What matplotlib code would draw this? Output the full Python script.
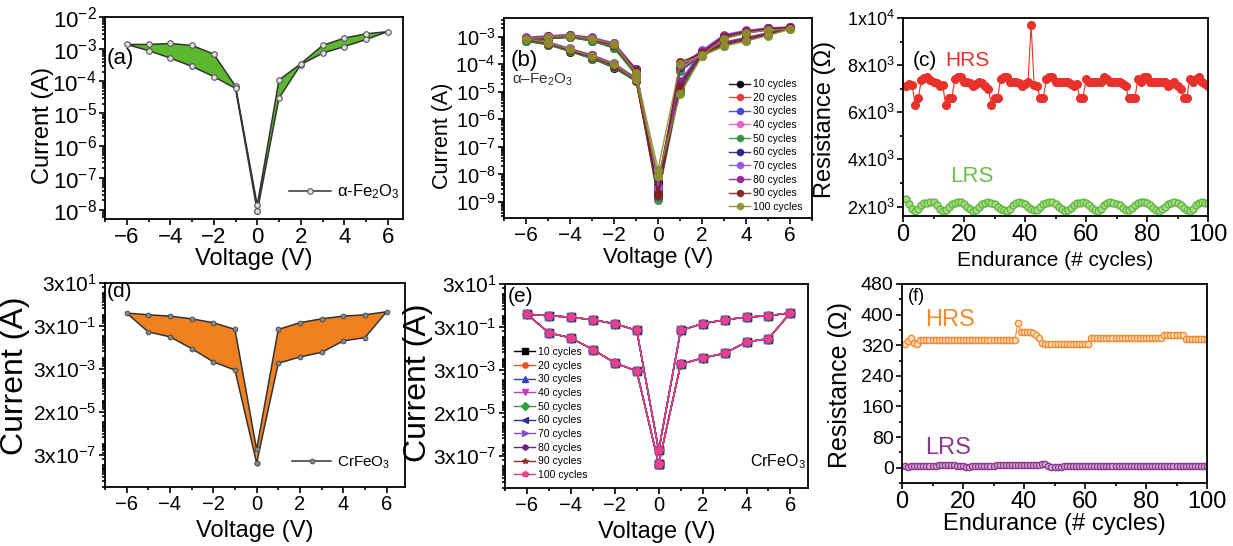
import matplotlib.pyplot as plt
import numpy as np
from matplotlib.ticker import FixedLocator, MultipleLocator, LogLocator, NullFormatter

plt.rcParams['font.family'] = ['Liberation Sans', 'DejaVu Sans']
plt.rcParams['mathtext.fontset'] = 'custom'
plt.rcParams['mathtext.rm'] = 'Liberation Sans'
plt.rcParams['mathtext.it'] = 'Liberation Sans:italic'
plt.rcParams['mathtext.default'] = 'regular'

# voltage sweep order of every I-V loop: 0 -> +6 -> 0 -> -6 -> 0
volts = [0, 1, 2, 3, 4, 5, 6, 5, 4, 3, 2, 1, 0, -1, -2, -3, -4, -5, -6, -5, -4, -3, -2, -1, 0]

# (a) alpha-Fe2O3 single loop
fe_current = [9e-9, 3e-5, 3.3e-4, 7.5e-4, 1.2e-3, 2.0e-3, 3.5e-3, 3.0e-3, 2.2e-3, 1.3e-3, 3.5e-4, 1.1e-4, 1.4e-8,
              7e-5, 7e-4, 1.3e-3, 1.5e-3, 1.4e-3, 1.4e-3, 9e-4, 5.3e-4, 2.9e-4, 1.4e-4, 6e-5, 9e-9]

# (b) alpha-Fe2O3 loops after n cycles
fe_c10 = [5.5e-9, 1.0e-5, 2.4e-4, 5.0e-4, 7.5e-4, 1.2e-3, 2.0e-3, 1.8e-3, 1.4e-3, 9.0e-4, 2.2e-4, 6.0e-5, 5.0e-9,
          4.5e-5, 4.0e-4, 7.0e-4, 9.5e-4, 8.5e-4, 6.8e-4, 5.2e-4, 2.9e-4, 1.6e-4, 7.5e-5, 2.4e-5, 5.5e-9]
fe_c20 = [2.5e-9, 1.4e-5, 2.2e-4, 5.5e-4, 8.0e-4, 1.3e-3, 2.1e-3, 1.9e-3, 1.5e-3, 1.0e-3, 2.4e-4, 7.0e-5, 2.0e-9,
          5.0e-5, 4.5e-4, 7.5e-4, 1.0e-3, 9.0e-4, 7.5e-4, 5.5e-4, 3.1e-4, 1.7e-4, 8.5e-5, 2.6e-5, 2.5e-9]
fe_c30 = [2.0e-9, 2.0e-5, 2.8e-4, 6.0e-4, 8.5e-4, 1.3e-3, 2.2e-3, 2.0e-3, 1.6e-3, 1.1e-3, 2.8e-4, 7.5e-5, 1.8e-9,
          5.5e-5, 5.0e-4, 8.0e-4, 1.05e-3, 9.5e-4, 8.0e-4, 5.8e-4, 3.3e-4, 1.9e-4, 9.5e-5, 2.8e-5, 2.0e-9]
fe_c40 = [3.0e-9, 1.6e-5, 2.5e-4, 5.8e-4, 8.2e-4, 1.25e-3, 2.1e-3, 1.9e-3, 1.5e-3, 1.0e-3, 2.6e-4, 6.5e-5, 2.5e-9,
          6.0e-5, 5.5e-4, 8.5e-4, 1.1e-3, 1.0e-3, 8.5e-4, 6.0e-4, 3.5e-4, 2.0e-4, 1.0e-4, 3.0e-5, 3.0e-9]
fe_c50 = [1.5e-9, 1.2e-5, 2.0e-4, 4.8e-4, 7.0e-4, 1.15e-3, 1.9e-3, 1.75e-3, 1.35e-3, 8.5e-4, 2.0e-4, 5.5e-5, 1.2e-9,
          4.0e-5, 3.8e-4, 7.0e-4, 9.5e-4, 8.8e-4, 7.2e-4, 5.0e-4, 3.0e-4, 1.6e-4, 8.0e-5, 2.5e-5, 1.5e-9]
fe_c60 = [2.2e-9, 1.8e-5, 2.6e-4, 6.2e-4, 9.0e-4, 1.35e-3, 2.2e-3, 2.0e-3, 1.6e-3, 1.1e-3, 3.0e-4, 8.0e-5, 2.0e-9,
          6.5e-5, 5.8e-4, 9.0e-4, 1.15e-3, 1.05e-3, 9.0e-4, 6.2e-4, 3.6e-4, 2.1e-4, 1.05e-4, 3.1e-5, 2.2e-9]
fe_c70 = [3.5e-9, 2.5e-5, 3.0e-4, 6.5e-4, 9.5e-4, 1.4e-3, 2.3e-3, 2.1e-3, 1.7e-3, 1.2e-3, 3.2e-4, 9.0e-5, 3.0e-9,
          7.0e-5, 6.0e-4, 9.5e-4, 1.2e-3, 1.1e-3, 9.5e-4, 6.5e-4, 3.8e-4, 2.2e-4, 1.1e-4, 3.2e-5, 3.5e-9]
fe_c80 = [1.8e-9, 2.2e-5, 2.7e-4, 6.0e-4, 9.0e-4, 1.35e-3, 2.2e-3, 2.0e-3, 1.6e-3, 1.1e-3, 2.9e-4, 8.5e-5, 1.6e-9,
          6.5e-5, 5.5e-4, 9.0e-4, 1.15e-3, 1.05e-3, 9.0e-4, 6.2e-4, 3.6e-4, 2.1e-4, 1.0e-4, 3.0e-5, 1.8e-9]
fe_c90 = [2.0e-9, 1.5e-5, 2.3e-4, 5.5e-4, 8.0e-4, 1.25e-3, 2.1e-3, 1.9e-3, 1.5e-3, 1.0e-3, 2.5e-4, 1.2e-4, 1.8e-9,
          5.5e-5, 5.0e-4, 8.0e-4, 1.05e-3, 9.5e-4, 8.0e-4, 5.6e-4, 3.2e-4, 1.8e-4, 9.0e-5, 2.7e-5, 2.0e-9]
fe_c100 = [8.5e-9, 8.0e-6, 2.0e-4, 4.5e-4, 7.0e-4, 1.1e-3, 1.9e-3, 1.75e-3, 1.35e-3, 8.5e-4, 2.1e-4, 1.0e-4, 1.5e-8,
           5.0e-5, 5.5e-4, 8.5e-4, 1.1e-3, 1.0e-3, 8.5e-4, 6.0e-4, 3.5e-4, 2.0e-4, 1.0e-4, 2.8e-5, 8.5e-9]
fe_cycle_runs = [fe_c10, fe_c20, fe_c30, fe_c40, fe_c50, fe_c60, fe_c70, fe_c80, fe_c90, fe_c100]
cycle_labels = ['10 cycles', '20 cycles', '30 cycles', '40 cycles', '50 cycles',
                '60 cycles', '70 cycles', '80 cycles', '90 cycles', '100 cycles']

# (d), (e) CrFeO3 loop (all cycles overlap)
cr_current = [1.3e-7, 5.6e-3, 1.1e-2, 1.8e-2, 6.1e-2, 8.7e-2, 1.38, 1.0, 0.87, 0.65, 0.43, 0.21, 5.6e-7,
              0.21, 0.43, 0.65, 0.87, 1.0, 1.2, 0.16, 0.095, 0.027, 6.5e-3, 2.7e-3, 1.3e-7]

# (c) alpha-Fe2O3 endurance
cycles = np.arange(1, 101)
fe_hrs = [7100, 7200, 7150, 6300, 6600, 7350, 7450, 7500, 7350, 7300,
          7250, 7100, 7150, 6300, 6600, 6600, 7400, 7500, 7500, 7300,
          7300, 7250, 7100, 7200, 7300, 7250, 7100, 7000, 6300, 6600,
          6600, 7400, 7500, 7500, 7300, 7300, 7300, 7250, 7100, 7200,
          7300, 9700, 7150, 7100, 6600, 6600, 7400, 7500, 7500, 7300,
          7300, 7300, 7300, 7300, 7200, 7100, 7200, 6600, 6600, 7400,
          7300, 7300, 7300, 7300, 7300, 7500, 7400, 7300, 7300, 7300,
          7300, 7200, 7100, 6600, 6600, 6600, 7400, 7300, 7500, 7500,
          7300, 7300, 7300, 7300, 7300, 7300, 7100, 7200, 7300, 7100,
          7000, 6600, 6600, 7400, 7300, 7400, 7500, 7300, 7200, 7100]
fe_lrs = [2300, 2100, 1900, 1800, 1900, 2050, 2150, 2150, 2200, 2200,
          2050, 1900, 1800, 1850, 2000, 2100, 2150, 2200, 2200, 2100,
          2000, 1900, 1800, 1850, 2000, 2100, 2150, 2200, 2150, 2100,
          2000, 1900, 1850, 1800, 1900, 2050, 2150, 2200, 2150, 2100,
          2000, 1900, 1850, 1850, 2000, 2100, 2150, 2200, 2200, 2100,
          2000, 1900, 1800, 1850, 1950, 2050, 2150, 2150, 2200, 2150,
          2050, 1950, 1850, 1800, 1900, 2050, 2150, 2200, 2150, 2100,
          2050, 1950, 1850, 1850, 1950, 2050, 2150, 2200, 2200, 2150,
          2050, 1950, 1850, 1800, 1900, 2000, 2100, 2150, 2200, 2150,
          2050, 1950, 1850, 1800, 1900, 2050, 2150, 2200, 2150, 2150]

# (f) CrFeO3 endurance
cr_hrs = [322, 330, 340, 326, 322, 333, 333, 333, 333, 333,
          333, 333, 333, 333, 333, 333, 333, 333, 333, 333,
          333, 333, 333, 333, 333, 333, 333, 333, 333, 333,
          333, 333, 333, 333, 333, 333, 333, 378, 355, 355,
          355, 355, 353, 348, 338, 326, 323, 323, 323, 323,
          323, 323, 323, 323, 323, 323, 323, 323, 323, 323,
          323, 338, 338, 338, 338, 338, 338, 338, 338, 338,
          338, 338, 338, 338, 338, 338, 338, 338, 338, 338,
          338, 338, 338, 338, 338, 346, 346, 346, 346, 346,
          346, 346, 337, 337, 337, 337, 337, 337, 337, 337]
cr_lrs = [4, 3, 4, 5, 5, 5, 5, 5, 5, 5,
          5, 6, 6, 7, 8, 7, 6, 5, 5, 4,
          3, 3, 4, 4, 5, 5, 5, 5, 5, 5,
          6, 6, 7, 7, 8, 8, 7, 7, 6, 6,
          6, 6, 6, 6, 7, 9, 10, 5, 3, 3,
          3, 3, 4, 4, 4, 4, 4, 4, 4, 4,
          4, 4, 5, 5, 5, 5, 5, 5, 5, 5,
          5, 5, 5, 5, 5, 5, 5, 5, 5, 5,
          5, 5, 5, 5, 5, 5, 5, 5, 5, 5,
          5, 5, 5, 5, 5, 5, 5, 5, 5, 5]

fe_colors = ['#000000', '#f03030', '#4040d0', '#e060c0', '#309040', '#202080',
             '#9050e0', '#902090', '#802020', '#909030']
cr_colors = ['#000000', '#f05020', '#3040c0', '#c040c0', '#30a040', '#303090',
             '#8050d0', '#702080', '#903020', '#e8408c']
cr_markers = ['s', 'o', '^', 'v', 'D', '<', '>', 'h', '*', 'p']

W, H = 1233, 546
fig = plt.figure(figsize=(W / 100, H / 100), dpi=100)


def box(left, top, right, bottom):
    return [left / W, 1 - bottom / H, (right - left) / W, (bottom - top) / H]


def style(ax, xsize, ysize):
    for s in ax.spines.values():
        s.set_linewidth(1.3)
    ax.tick_params(which='both', direction='out', top=False, right=False, width=1.2, pad=1.5)
    ax.tick_params(axis='x', labelsize=xsize)
    ax.tick_params(axis='y', labelsize=ysize)
    ax.tick_params(which='major', length=4.5)
    ax.tick_params(which='minor', length=2.5)


def labels(ax, xlab, ylab, xs, ys, xy, yx, yy):
    ax.set_xlabel(xlab, fontsize=xs)
    ax.set_ylabel(ylab, fontsize=ys)
    ax.xaxis.set_label_coords(0.5, xy)
    ax.yaxis.set_label_coords(yx, yy)
    ax.xaxis.label.set_va('center')
    ax.yaxis.label.set_va('center')


def log_minor(ax):
    ax.yaxis.set_minor_locator(LogLocator(base=10, subs=np.arange(1, 10), numticks=100))
    ax.yaxis.set_minor_formatter(NullFormatter())


# ---- (a)
ax = fig.add_axes(box(105, 17, 403, 219))
ax.fill(volts[:13], fe_current[:13], color='#5cb82e', lw=0)
ax.fill(volts[12:], fe_current[12:], color='#5cb82e', lw=0)
ax.plot(volts, fe_current, '-o', color='#333333', lw=1.1, ms=4, mfc='#e0e0e0', mec='#555555', mew=0.8,
        label='α-Fe$_2$O$_3$')
ax.set_yscale('log')
ax.set_ylim(5.2e-9, 1e-2)
ax.set_xlim(-7, 6.7)
ax.set_xticks([-6, -4, -2, 0, 2, 4, 6])
ax.xaxis.set_minor_locator(MultipleLocator(1))
ax.yaxis.set_major_locator(FixedLocator([1e-8, 1e-7, 1e-6, 1e-5, 1e-4, 1e-3, 1e-2]))
log_minor(ax)
style(ax, 16, 16)
labels(ax, 'Voltage (V)', 'Current (A)', 17, 17, -0.2, -0.208, 0.465)
ax.text(0.007, 0.797, '(a)', transform=ax.transAxes, fontsize=16, ha='left', va='center')
ax.legend(loc='center right', bbox_to_anchor=(0.99, 0.134), frameon=False, fontsize=12,
          handlelength=2.5, handletextpad=0.4, borderaxespad=0, borderpad=0)

# ---- (b)
ax = fig.add_axes(box(504, 18, 812, 218))
for run, lab, col in zip(fe_cycle_runs, cycle_labels, fe_colors):
    ax.plot(volts, run, '-o', color=col, lw=1, ms=5.5, alpha=0.9, label=lab)
ax.set_yscale('log')
ax.set_ylim(2.6e-10, 4.8e-3)
ax.set_xlim(-7, 7)
ax.set_xticks([-6, -4, -2, 0, 2, 4, 6])
ax.xaxis.set_minor_locator(MultipleLocator(1))
ax.yaxis.set_major_locator(FixedLocator([1e-9, 1e-8, 1e-7, 1e-6, 1e-5, 1e-4, 1e-3]))
log_minor(ax)
style(ax, 15, 14.5)
labels(ax, 'Voltage (V)', 'Current (A)', 16, 15.5, -0.2, -0.2, 0.41)
ax.text(0.02, 0.79, '(b)', transform=ax.transAxes, fontsize=16, ha='left', va='center')
ax.text(0.025, 0.69, 'α–Fe$_2$O$_3$', transform=ax.transAxes, fontsize=11, ha='left', va='center',
        color='#333333')
ax.legend(loc='lower right', bbox_to_anchor=(0.97, 0.03), frameon=False, fontsize=7.5, markerscale=0.8,
          handlelength=2, handletextpad=0.3, labelspacing=0.35, borderaxespad=0, borderpad=0)

# ---- (c)
ax = fig.add_axes(box(903, 18, 1208, 216))
ax.plot(cycles, fe_hrs, '-o', color='#e8312a', lw=0.8, ms=5.5, mec='#e8312a')
ax.plot(cycles, fe_lrs, '-o', color='#6cc04a', lw=0.8, ms=5, mfc='#a8dc88', mec='#62b840', mew=1)
ax.set_xlim(0, 100)
ax.set_ylim(1600, 10000)
ax.set_yticks([2000, 4000, 6000, 8000, 10000])
ax.set_yticklabels(['2x10$^3$', '4x10$^3$', '6x10$^3$', '8x10$^3$', '1x10$^4$'])
ax.yaxis.set_minor_locator(MultipleLocator(1000))
ax.set_xticks([0, 20, 40, 60, 80, 100])
ax.xaxis.set_minor_locator(MultipleLocator(10))
style(ax, 17, 13)
labels(ax, 'Endurance (# cycles)', 'Resistance (Ω)', 15, 17, -0.225, -0.256, 0.49)
ax.text(3.3, 8200, '(c)', fontsize=15, ha='left', va='center')
ax.text(13.8, 8200, 'HRS', fontsize=15, ha='left', va='center', color='#e8312a')
ax.text(15.4, 3280, 'LRS', fontsize=16, ha='left', va='center', color='#6cc04a')

# ---- (d)
cr_ticks = [3e-7, 3e-5, 3e-3, 3e-1, 3e1]
cr_ticklabels = ['3x10$^{-7}$', '2x10$^{-5}$', '3x10$^{-3}$', '3x10$^{-1}$', '3x10$^{1}$']
ax = fig.add_axes(box(105, 283, 405, 487))
ax.fill(volts[:13], cr_current[:13], color='#f08020', lw=0)
ax.fill(volts[12:], cr_current[12:], color='#f08020', lw=0)
ax.plot(volts, cr_current, '-o', color='#333333', lw=1.1, ms=3.5, mfc='#888888', mec='#444444', mew=0.6,
        label='CrFeO$_3$')
ax.set_yscale('log')
ax.set_ylim(1e-8, 30)
ax.set_xlim(-7, 6.85)
ax.set_xticks([-6, -4, -2, 0, 2, 4, 6])
ax.xaxis.set_minor_locator(MultipleLocator(1))
ax.yaxis.set_major_locator(FixedLocator(cr_ticks))
ax.set_yticklabels(cr_ticklabels)
log_minor(ax)
style(ax, 14.5, 15)
labels(ax, 'Voltage (V)', 'Current (A)', 17, 23, -0.215, -0.30, 0.544)
ax.text(0.007, 0.956, '(d)', transform=ax.transAxes, fontsize=15, ha='left', va='center')
ax.legend(loc='center right', bbox_to_anchor=(0.95, 0.118), frameon=False, fontsize=11,
          handlelength=2.5, handletextpad=0.4, borderaxespad=0, borderpad=0)

# ---- (e)
ax = fig.add_axes(box(505, 284, 808, 488))
for lab, col, mk in zip(cycle_labels, cr_colors, cr_markers):
    ax.plot(volts, cr_current, '-', marker=mk, color=col, lw=1, ms=5.5, label=lab)
ax.set_yscale('log')
ax.set_ylim(1e-8, 30)
ax.set_xlim(-7, 6.8)
ax.set_xticks([-6, -4, -2, 0, 2, 4, 6])
ax.xaxis.set_minor_locator(MultipleLocator(1))
ax.yaxis.set_major_locator(FixedLocator(cr_ticks))
ax.set_yticklabels(cr_ticklabels)
log_minor(ax)
style(ax, 14.5, 15)
labels(ax, 'Voltage (V)', 'Current (A)', 17, 23, -0.215, -0.287, 0.515)
ax.text(0.01, 0.94, '(e)', transform=ax.transAxes, fontsize=15, ha='left', va='center')
ax.text(0.81, 0.127, 'CrFeO$_3$', transform=ax.transAxes, fontsize=11.5, ha='left', va='center')
ax.legend(loc='lower left', bbox_to_anchor=(0.03, 0.04), frameon=False, fontsize=7.5, markerscale=0.7,
          handlelength=2, handletextpad=0.3, labelspacing=0.35, borderaxespad=0, borderpad=0)

# ---- (f)
ax = fig.add_axes(box(902, 284, 1207, 483))
ax.plot(cycles, cr_hrs, '-o', color='#f28a30', lw=0.8, ms=4.5, mfc='#fde2c4', mec='#f28a30', mew=1)
ax.plot(cycles, cr_lrs, '-o', color='#8b3a8f', lw=0.8, ms=4.5, mfc='#d8b0d8', mec='#8b3a8f', mew=1)
ax.set_xlim(0, 100)
ax.set_ylim(-40, 480)
ax.set_yticks([0, 80, 160, 240, 320, 400, 480])
ax.yaxis.set_minor_locator(MultipleLocator(40))
ax.set_xticks([0, 20, 40, 60, 80, 100])
ax.xaxis.set_minor_locator(MultipleLocator(10))
style(ax, 17, 14)
labels(ax, 'Endurance (# cycles)', 'Resistance (Ω)', 17, 18, -0.205, -0.203, 0.49)
ax.text(0.02, 0.935, '(f)', transform=ax.transAxes, fontsize=13, ha='left', va='center')
ax.text(7.5, 385, 'HRS', fontsize=17, ha='left', va='center', color='#f28a30')
ax.text(7.5, 52, 'LRS', fontsize=17, ha='left', va='center', color='#8b3a8f')

fig.savefig('out.png', dpi=100)
